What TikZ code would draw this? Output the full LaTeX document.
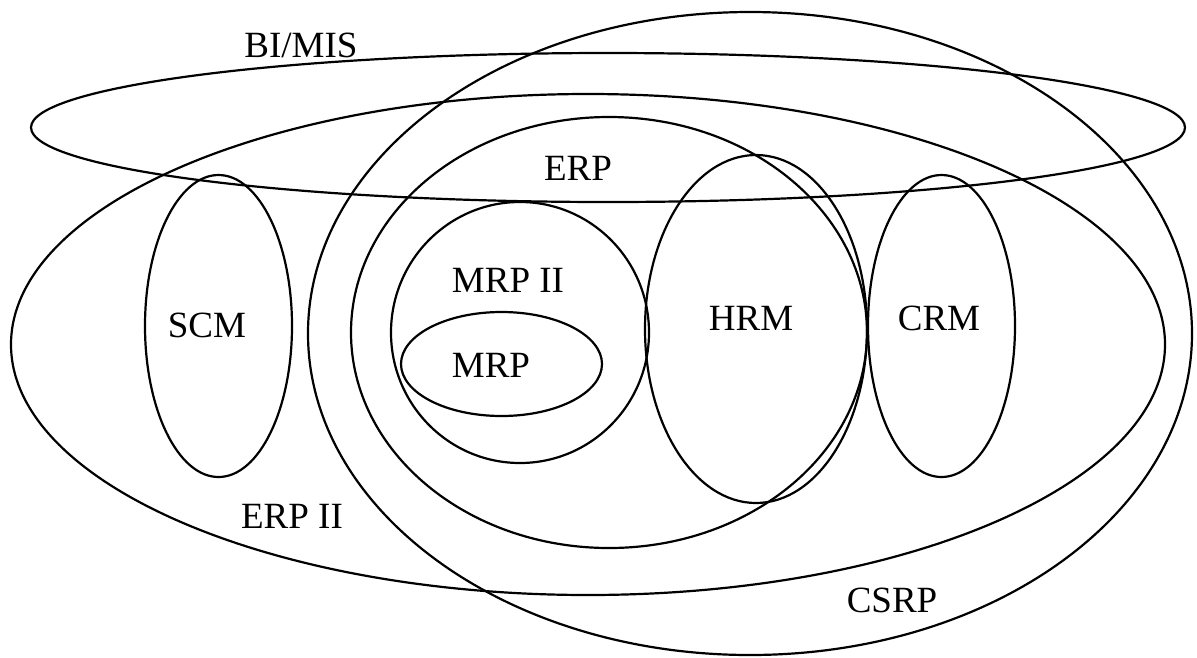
\documentclass[tikz,border=0pt]{standalone}
\usepackage{fontspec}
\setmainfont{Liberation Serif}
\usetikzlibrary{shapes.geometric}
\begin{document}
\begin{tikzpicture}[x=1pt,y=-1pt,
  ring/.style={draw, ellipse, line width=2.2pt, inner sep=0pt, outer sep=0pt},
  lbl/.style={font=\fontsize{37}{40}\selectfont, inner sep=0pt, anchor=base}]
\useasboundingbox (0,0) rectangle (1197,657);
% sets
\node[ring, minimum width=1154pt, minimum height=149pt] (bimis) at (608,127.5) {};
\node[ring, minimum width=884pt, minimum height=643pt] (csrp) at (750,333.5) {};
\node[ring, minimum width=1154pt, minimum height=501pt] (erpii) at (588,344.5) {};
\node[ring, minimum width=516pt, minimum height=431pt] (erp) at (609,332.5) {};
\node[ring, minimum width=258pt, minimum height=261pt] (mrpii) at (520,332.5) {};
\node[ring, minimum width=201pt, minimum height=104pt] (mrp) at (501.5,364) {};
\node[ring, minimum width=147pt, minimum height=302pt] (scm) at (218.5,326) {};
\node[ring, minimum width=222pt, minimum height=348pt] (hrm) at (756,329) {};
\node[ring, minimum width=147pt, minimum height=302pt] (crm) at (941.5,326) {};
% labels
\node[lbl] (lbimis) at (301,57) {BI/MIS};
\node[lbl] (lerp) at (578,180) {ERP};
\node[lbl] (lmrpii) at (508,292) {MRP II};
\node[lbl] (lmrp) at (491,377) {MRP};
\node[lbl] (lscm) at (207,337) {SCM};
\node[lbl] (lhrm) at (751,330) {HRM};
\node[lbl] (lcrm) at (939,330) {CRM};
\node[lbl] (lerpii) at (292,528) {ERP II};
\node[lbl] (lcsrp) at (892,612) {CSRP};
\end{tikzpicture}
\end{document}
